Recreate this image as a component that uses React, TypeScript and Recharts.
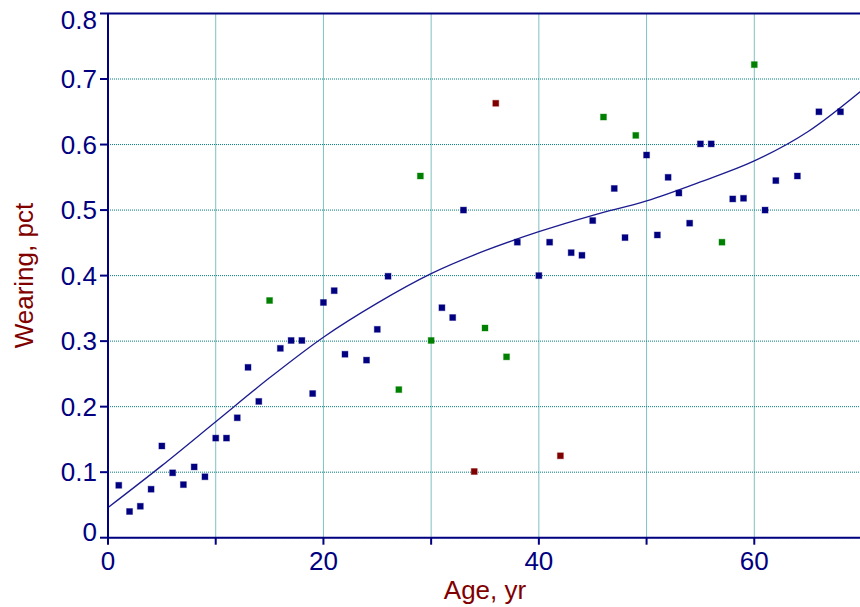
import React from "react";
import { ComposedChart, Scatter, Line, XAxis, YAxis, CartesianGrid, ReferenceLine } from "recharts";

// ---- data ----
const blueAge = [1, 2, 3, 4, 5, 6, 7, 8, 9, 10, 11, 12, 13, 14, 16, 17, 18, 19, 20, 21, 22, 24, 25, 26, 31, 32, 33, 38, 40, 41, 43, 44, 45, 47, 48, 50, 51, 52, 53, 54, 55, 56, 58, 59, 61, 62, 64, 66, 68];
const blueWear = [0.080, 0.040, 0.048, 0.074, 0.140, 0.099, 0.081, 0.108, 0.093, 0.152, 0.152, 0.183, 0.260, 0.208, 0.289, 0.301, 0.301, 0.220, 0.359, 0.377, 0.280, 0.271, 0.318, 0.399, 0.351, 0.336, 0.500, 0.451, 0.400, 0.451, 0.435, 0.431, 0.484, 0.533, 0.458, 0.584, 0.462, 0.550, 0.526, 0.480, 0.601, 0.601, 0.517, 0.518, 0.500, 0.545, 0.552, 0.650, 0.650];

const greenAge = [15, 27, 29, 30, 35, 37, 46, 49, 57, 60];
const greenWear = [0.362, 0.226, 0.552, 0.301, 0.320, 0.276, 0.642, 0.614, 0.451, 0.722];

const redAge = [34, 36, 42];
const redWear = [0.101, 0.663, 0.125];

const fitAge = [0, 5, 10, 15, 20, 25, 30, 35, 40, 45, 50, 55, 60, 65, 70];
const fitWear = [0.046, 0.110, 0.177, 0.244, 0.306, 0.358, 0.403, 0.438, 0.467, 0.492, 0.514, 0.543, 0.575, 0.620, 0.683];

const xTicks = [0, 10, 20, 30, 40, 50, 60, 70];
const xTickLabels = ["0", "", "20", "", "40", "", "60", ""];
const yTicks = [0, 0.1, 0.2, 0.3, 0.4, 0.5, 0.6, 0.7, 0.8];
const yTickLabels = ["0", "0.1", "0.2", "0.3", "0.4", "0.5", "0.6", "0.7", "0.8"];

const xTitle = "Age, yr";
const yTitle = "Wearing, pct";

// ---- style ----
const NAVY = "#000080";
const MAROON = "#800000";
const GREEN = "#008000";
const FONT = "'Liberation Sans', Arial, sans-serif";
const FS = 26;

const CHART_W = 870;
const CHART_H = 607;
const M_TOP = 13.5;
const M_RIGHT = 8;
const Y_W = 108;
const X_H = 69.3;

const square = (fill: string) => (p: any) => (
  <rect x={p.cx - 3} y={p.cy - 3} width={6} height={6} fill={fill} stroke={fill} strokeOpacity={0.35} strokeWidth={1} />
);

const XTick = (p: any) => {
  const i = xTicks.indexOf(p.payload.value);
  const label = i >= 0 ? xTickLabels[i] : "";
  if (!label) return <g />;
  return (
    <text x={p.x} y={p.y} dy="0.71em" textAnchor="middle" fill={NAVY} fontSize={FS} fontFamily={FONT}>
      {label}
    </text>
  );
};

const YTick = (p: any) => {
  const i = yTicks.findIndex((v) => Math.abs(v - p.payload.value) < 1e-9);
  const label = i >= 0 ? yTickLabels[i] : "";
  let shift = 0;
  if (i === yTicks.length - 1) shift = 6;
  if (i === 0) shift = -6;
  return (
    <text x={p.x} y={p.y + shift} dy="0.355em" textAnchor="end" fill={NAVY} fontSize={FS} fontFamily={FONT}>
      {label}
    </text>
  );
};

export default function App() {
  const blue = blueAge.map((a, i) => ({ x: a, y: blueWear[i] }));
  const green = greenAge.map((a, i) => ({ x: a, y: greenWear[i] }));
  const red = redAge.map((a, i) => ({ x: a, y: redWear[i] }));
  const fit = fitAge.map((a, i) => ({ x: a, y: fitWear[i] }));

  const plotLeft = Y_W;
  const plotRight = CHART_W - M_RIGHT;
  const plotTop = M_TOP;
  const plotBottom = CHART_H - X_H;

  return (
    <div style={{ position: "absolute", left: 0, top: 0, width: 860, height: 607, overflow: "hidden", background: "#fff" }}>
      <ComposedChart width={CHART_W} height={CHART_H} margin={{ top: M_TOP, right: M_RIGHT, bottom: 0, left: 0 }}>
        <CartesianGrid stroke="#008080" strokeDasharray="1 1" />
        <XAxis
          dataKey="x"
          type="number"
          domain={[0, 70]}
          ticks={xTicks}
          height={X_H}
          axisLine={{ stroke: NAVY, strokeWidth: 2 }}
          tickLine={{ stroke: NAVY, strokeWidth: 2 }}
          tickSize={7}
          tickMargin={7}
          tick={XTick}
          allowDataOverflow
        />
        <YAxis
          dataKey="y"
          type="number"
          domain={[0, 0.8]}
          ticks={yTicks}
          width={Y_W}
          axisLine={{ stroke: NAVY, strokeWidth: 2 }}
          tickLine={{ stroke: NAVY, strokeWidth: 2 }}
          tickSize={8}
          tickMargin={3}
          tick={YTick}
          allowDataOverflow
        />
        <ReferenceLine y={0.8} stroke={NAVY} strokeWidth={2} ifOverflow="visible" />
        <Line data={fit} dataKey="y" type="monotone" stroke="#1c1c90" strokeWidth={1.3} dot={false} activeDot={false} isAnimationActive={false} />
        <Scatter data={blue} dataKey="y" shape={square(NAVY)} isAnimationActive={false} />
        <Scatter data={green} dataKey="y" shape={square(GREEN)} isAnimationActive={false} />
        <Scatter data={red} dataKey="y" shape={square(MAROON)} isAnimationActive={false} />
      </ComposedChart>
      <svg width={860} height={607} style={{ position: "absolute", left: 0, top: 0, pointerEvents: "none" }}>
        <text x={(plotLeft + plotRight) / 2} y={599} textAnchor="middle" fill={MAROON} fontSize={FS} fontFamily={FONT}>
          {xTitle}
        </text>
        <text
          x={33}
          y={(plotTop + plotBottom) / 2}
          textAnchor="middle"
          fill={MAROON}
          fontSize={FS}
          fontFamily={FONT}
          transform={`rotate(-90, 33, ${(plotTop + plotBottom) / 2})`}
        >
          {yTitle}
        </text>
      </svg>
    </div>
  );
}
